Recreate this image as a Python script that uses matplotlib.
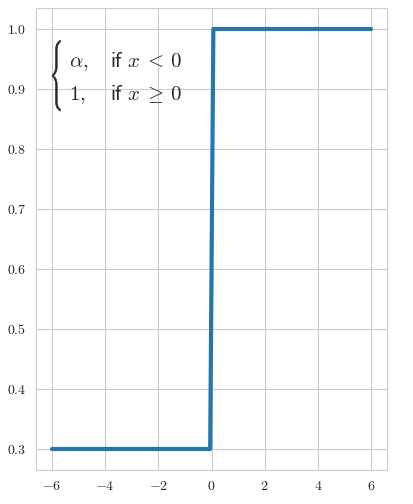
import matplotlib
matplotlib.use("Agg")
import matplotlib.pyplot as plt
import seaborn as sns
from matplotlib.patches import PathPatch
from matplotlib.textpath import TextPath
from matplotlib.transforms import Affine2D

# step function: alpha for x < 0, 1 for x >= 0
x = [-6.0, -0.05, 0.07, 6.0]
y = [0.3, 0.3, 1.0, 1.0]
xticks = [-6, -4, -2, 0, 2, 4, 6]
yticks = [0.3, 0.4, 0.5, 0.6, 0.7, 0.8, 0.9, 1.0]

sns.set_style("whitegrid")
plt.rcParams.update({
    "font.family": "serif",
    "font.serif": ["cmr10", "DejaVu Serif"],
    "mathtext.fontset": "cm",
    "axes.formatter.use_mathtext": True,
    "axes.unicode_minus": True,
    "text.color": "#262626",
})

fig, ax = plt.subplots(figsize=(4.13, 5.04), dpi=100)
fig.subplots_adjust(left=36 / 413, right=387 / 413, top=1 - 8 / 504, bottom=1 - 470 / 504)

ax.plot(x, y, color="#2576ad", lw=3.0, solid_capstyle="round")

ax.set_xticks(xticks)
ax.set_yticks(yticks)
ax.tick_params(labelsize=10, colors="#262626")

# big left brace of the cases block, stretched from the cm glyph
brace = TextPath((0, 0), r"$\{$", size=1)
ext = brace.get_extents()
bx, by, bw, bh = 0.046, 0.777, 0.024, 0.153
tr = (Affine2D().translate(-ext.x0, -ext.y0)
      .scale(bw / ext.width, bh / ext.height)
      .translate(bx, by) + ax.transAxes)
ax.add_patch(PathPatch(brace, transform=tr, facecolor="#262626",
                       edgecolor="#262626", lw=0.4, clip_on=False))

fs = 15
ax.text(0.093, 0.872, r"$\alpha,$", transform=ax.transAxes, fontsize=fs, va="baseline")
ax.text(0.093, 0.800, r"$1,$", transform=ax.transAxes, fontsize=fs, va="baseline")
ax.text(0.21, 0.872, r"$\mathsf{if}\ x\:<\:0$", transform=ax.transAxes,
        fontsize=fs, va="baseline")
ax.text(0.21, 0.800, r"$\mathsf{if}\ x\:\geq\:0$", transform=ax.transAxes,
        fontsize=fs, va="baseline")

fig.savefig("out.png", dpi=100)
